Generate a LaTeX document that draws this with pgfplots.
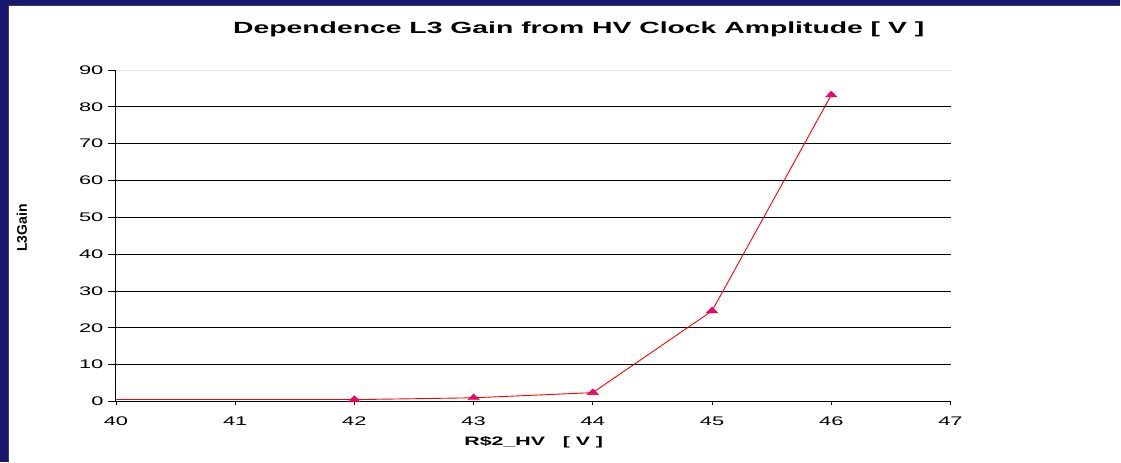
\documentclass[border=0pt]{standalone}
\usepackage{fontspec}
\setmainfont{Liberation Sans}
\newfontfamily\wf[FakeStretch=1.75]{Liberation Sans}
\usepackage{pgfplots}
\pgfplotsset{compat=1.18}
\definecolor{slide}{RGB}{24,24,112}
\begin{document}
\begin{tikzpicture}
\fill[white] (0,0) rectangle (1121pt,462pt);
\fill[slide] (0,0) rectangle (8pt,462pt);
\fill[slide] (0,457pt) rectangle (1121pt,462pt);
\draw[black!75, line width=1.2pt] (8.6pt,0) -- (8.6pt,456.4pt) -- (1121pt,456.4pt);
\begin{axis}[
  at={(116pt,60.3pt)}, anchor=south west,
  scale only axis, width=835pt, height=331.7pt,
  xmin=40, xmax=47, ymin=0, ymax=90,
  axis x line*=bottom, axis y line*=left,
  axis line style={black, line width=0.9pt},
  xtick={40,41,...,47}, ytick={0,10,...,80},
  extra y ticks={90}, extra y tick style={grid style={black!10, line width=0.8pt}},
  ymajorgrids, grid style={black, line width=0.8pt},
  tick align=outside,
  major tick length=8pt,
  xtick style={/pgfplots/major tick length=4pt, black, line width=0.8pt},
  ytick style={black, line width=0.8pt},
  /pgf/number format/assume math mode=true,
  tick label style={font=\wf\fontsize{12.5}{12.5}\selectfont},
  yticklabel style={xshift=-1pt},
  xticklabel style={yshift=-4pt},
]
\addplot[red, line width=0.9pt, no marks] coordinates {(39.96,0.5) (42,0.5)};
\addplot[red, line width=0.9pt, mark=triangle*, mark size=6.5pt,
  mark options={solid, fill=magenta, draw=red, line width=0.4pt, yscale=0.6}] coordinates {
  (42,0.5) (43,1.0) (44,2.4) (45,24.6) (46,83.2)
};
\end{axis}
\node[font=\wf\bfseries\fontsize{16.2}{16.2}\selectfont] at (579pt,433pt) {Dependence L3 Gain from HV Clock Amplitude [ V ]};
\node[font=\wf\bfseries\fontsize{12.2}{12.2}\selectfont] at (534pt,20pt) {R\$2\_HV~~~[ V ]};
\node[font=\bfseries\fontsize{14}{14}\selectfont, rotate=90] at (22pt,234pt) {L3Gain};
\end{tikzpicture}
\end{document}
